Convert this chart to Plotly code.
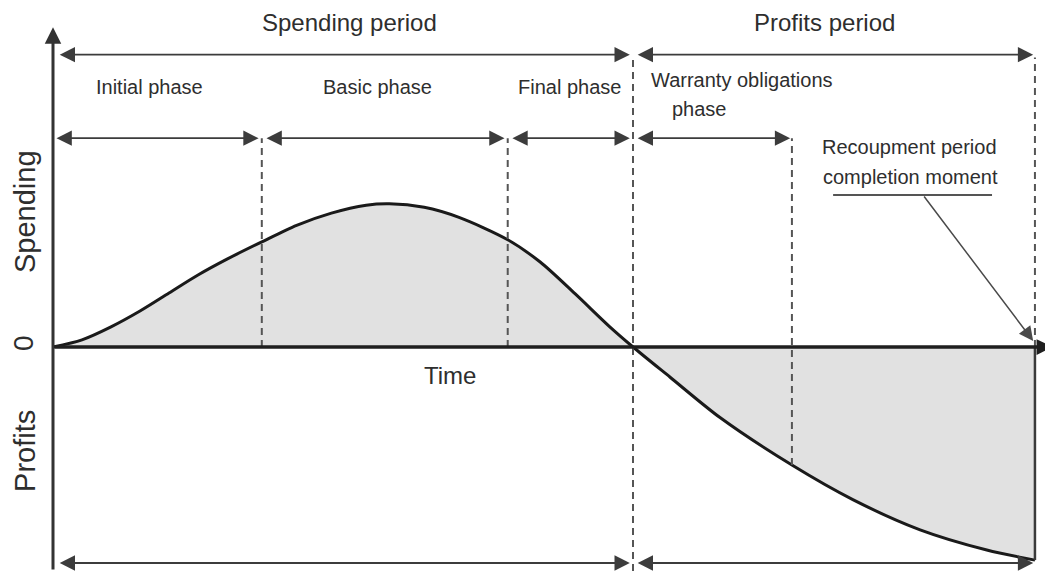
import plotly.graph_objects as go

# ---- data (time units / value units) ----
curve_t = [0, 5, 10, 15, 20, 25, 30, 36, 42, 48, 54, 58, 64, 70,
           78.4, 84, 90, 96, 100, 106.4, 115, 127.4, 137.9, 149.5, 161, 169.3]
curve_v = [0, 5, 14, 25, 37.5, 50, 61, 73, 84.5, 93, 98.5, 99.5, 97, 90,
           74.5, 59, 37, 14, 0, -21, -49, -82, -106, -127, -141, -148]

# phase boundaries on the time axis
t_start = 0
t_initial_end = 36
t_basic_end = 78.4
t_spend_end = 100
t_warranty_end = 127.4
t_recoup = 169.3
warranty_curve_v = -82
end_curve_v = -148

period_labels = ["Spending period", "Profits period"]
phase_labels = ["Initial phase", "Basic phase", "Final phase"]
warranty_label = ["Warranty obligations", "phase"]
recoup_label = ["Recoupment period", "completion moment"]
y_labels = ["Spending", "0", "Profits"]
x_label = "Time"

# ---- layout constants (page has an 8px body margin) ----
W, H = 1045, 563
XR = [-7.759, 172.414]
YR = [-155.56, 235.42]
ROW_TOP = 203
ROW_PHASE = 145
ROW_BOTTOM = -150
GAP = 0.55

FONT = "Liberation Sans"
TXT = "#2e2e2e"
LINE = "#3c3c3c"
DASH = "7px,5px"

fig = go.Figure()

fig.add_trace(go.Scatter(
    x=curve_t, y=curve_v, mode="lines",
    line=dict(color="#1a1a1a", width=3, shape="spline", smoothing=0.8),
    fill="tozeroy", fillcolor="#e1e1e1", hoverinfo="skip", showlegend=False,
))

shapes = []
def vdash(t, y0, y1):
    shapes.append(dict(type="line", xref="x", yref="y", x0=t, x1=t, y0=y0, y1=y1,
                       line=dict(color="#555555", width=2, dash=DASH)))

vdash(t_initial_end, 0, ROW_PHASE)
vdash(t_basic_end, 0, ROW_PHASE)
vdash(t_spend_end, YR[0], ROW_TOP - 2)
vdash(t_warranty_end, warranty_curve_v, ROW_PHASE)
vdash(t_recoup, 0, ROW_TOP - 2)

# solid right edge of profit area
shapes.append(dict(type="line", xref="x", yref="y", x0=t_recoup, x1=t_recoup,
                   y0=end_curve_v, y1=0, line=dict(color="#3a3a3a", width=2.5)))
# underline of recoupment label
shapes.append(dict(type="line", xref="x", yref="y", x0=134.5, x1=161.9,
                   y0=105.6, y1=105.6, line=dict(color="#555555", width=2)))

annotations = []
def arrow(x0, y0, x1, y1, both=True, width=1.8, size=1.7, color=LINE, head=2):
    annotations.append(dict(
        x=x1, y=y1, ax=x0, ay=y0, xref="x", yref="y", axref="x", ayref="y",
        text="", showarrow=True, arrowhead=head, startarrowhead=head,
        arrowside="end+start" if both else "end",
        arrowsize=size, startarrowsize=size, arrowwidth=width, arrowcolor=color,
        standoff=0, startstandoff=0,
    ))

# axes
arrow(0, YR[0], 0, 222, both=False, width=3, size=1.1, color="#333333")
arrow(0, 0, 172.3, 0, both=False, width=3.5, size=0.9, color="#1f1f1f")

# top period arrows
arrow(t_start + 0.9, ROW_TOP, t_spend_end - GAP, ROW_TOP)
arrow(t_spend_end + GAP, ROW_TOP, t_recoup - 0.3, ROW_TOP)
# phase arrows
arrow(t_start + 0.35, ROW_PHASE, t_initial_end - GAP, ROW_PHASE)
arrow(t_initial_end + GAP, ROW_PHASE, t_basic_end - GAP, ROW_PHASE)
arrow(t_basic_end + GAP, ROW_PHASE, t_spend_end - GAP, ROW_PHASE)
arrow(t_spend_end + GAP, ROW_PHASE, t_warranty_end - 0.3, ROW_PHASE)
# bottom arrows
arrow(t_start + 0.9, ROW_BOTTOM, t_spend_end - GAP, ROW_BOTTOM)
arrow(t_spend_end + GAP, ROW_BOTTOM, t_recoup - 0.3, ROW_BOTTOM)
# recoupment pointer
arrow(150, 105.6, 169.0, 4.2, both=False, width=1.5, size=1.9, color="#4a4a4a")

def label(text, x, y, size, angle=0):
    annotations.append(dict(x=x, y=y, xref="x", yref="y", text=text, showarrow=False,
                            font=dict(family=FONT, size=size, color=TXT),
                            textangle=angle, xanchor="center", yanchor="middle"))

label(period_labels[0], 51.2, 225.7, 24)
label(period_labels[1], 133.1, 225.7, 24)
label(phase_labels[0], 16.7, 180.6, 20)
label(phase_labels[1], 56.0, 180.6, 20)
label(phase_labels[2], 89.05, 180.6, 20)
label(warranty_label[0], 118.8, 185.4, 20)
label(warranty_label[1], 111.55, 165.3, 20)
label(recoup_label[0], 147.6, 138.9, 20)
label(recoup_label[1], 147.9, 118.1, 20)
label(x_label, 68.4, -20.1, 24)
label(y_labels[0], -4.83, 94.4, 29, -90)
label(y_labels[1], -5.0, 2.8, 28, -90)
label(y_labels[2], -4.83, -72.2, 29, -90)

fig.update_layout(
    width=W, height=H, margin=dict(l=0, r=0, t=0, b=0),
    paper_bgcolor="white", plot_bgcolor="white",
    xaxis=dict(range=XR, visible=False, fixedrange=True),
    yaxis=dict(range=YR, visible=False, fixedrange=True),
    shapes=shapes, annotations=annotations, showlegend=False,
)

fig.write_html("out.html")
